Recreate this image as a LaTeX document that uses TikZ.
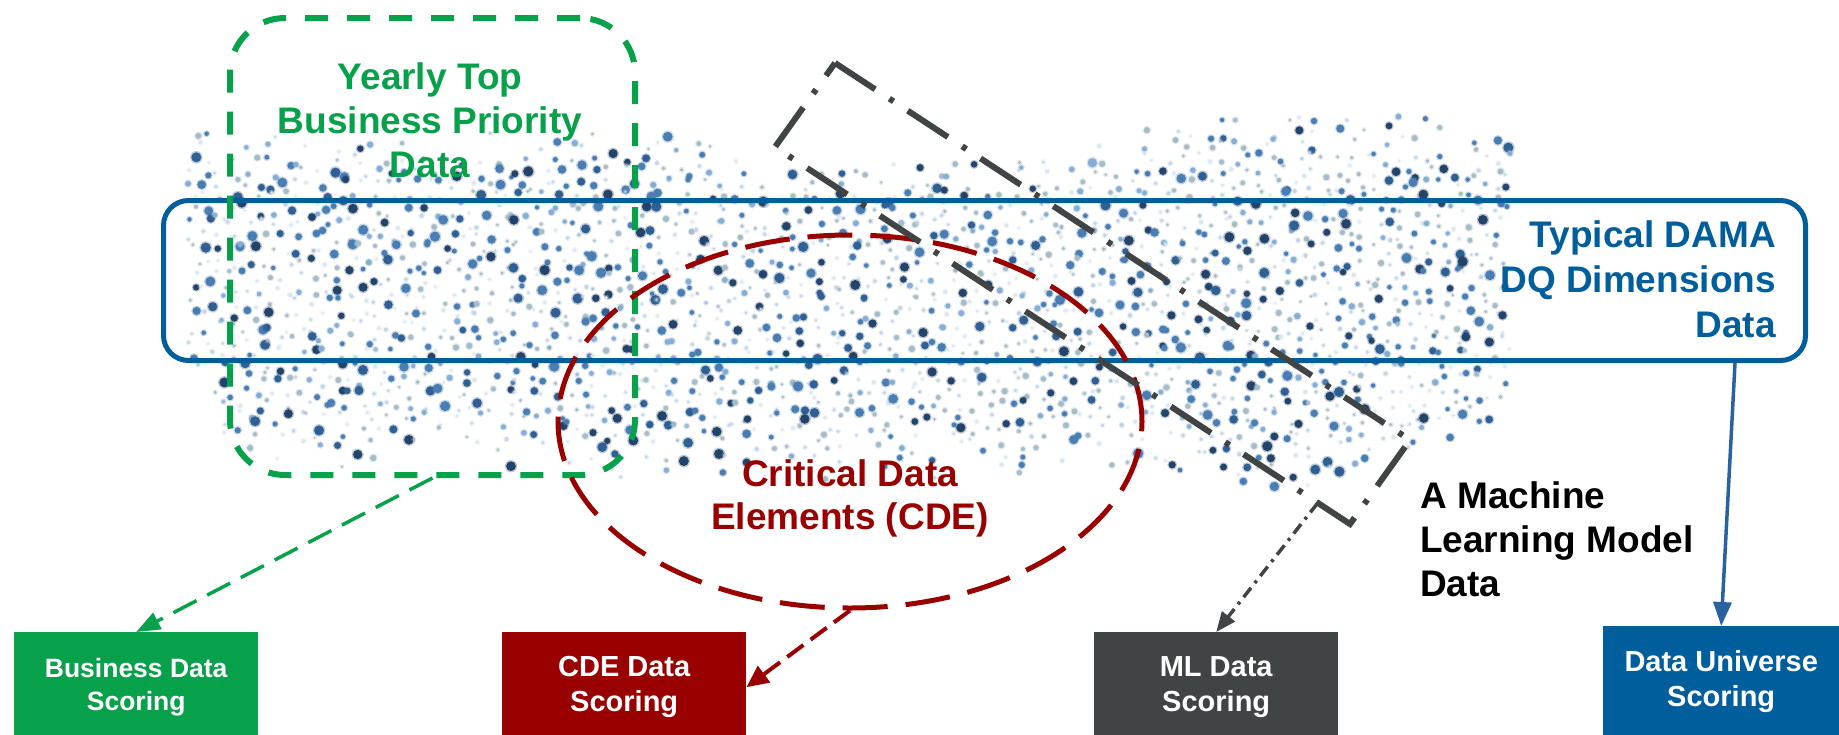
\documentclass[tikz,border=0pt]{standalone}
\usepackage{fontspec}
\setmainfont{Liberation Sans}
\usetikzlibrary{arrows.meta,shapes.geometric,calc}

% palette
\definecolor{dqblue}{HTML}{005E9C}
\definecolor{arrowblue}{HTML}{2A62A0}
\definecolor{bizgreen}{HTML}{08A14B}
\definecolor{cdered}{HTML}{990000}
\definecolor{mlgray}{HTML}{404444}
% dot shades, dark to pale
\definecolor{dot0}{HTML}{23436B}
\definecolor{dot1}{HTML}{2F5F93}
\definecolor{dot2}{HTML}{4A7DB2}
\definecolor{dot3}{HTML}{86AED4}
\definecolor{dot4}{HTML}{A6BCC6}
\definecolor{dot5}{HTML}{C2D5E6}
\definecolor{dot6}{HTML}{DCE6EE}

\tikzset{
  declare function={
    cloudtop(\x)=(\x<620)?122:((\x<760)?(122+(\x-620)*0.2):((\x<1080)?150:((\x<1180)?(150-(\x-1080)*0.4):((\x<1380)?110:(110+(\x-1380)*0.15)))));
    cloudbot(\x)=(\x<560)?468:((\x<1150)?480:((\x<1320)?(480+(\x-1150)*0.12):(500-(\x-1320)*0.35)));
  },
  bigtext/.style={font=\fontsize{37}{44}\selectfont\bfseries, inner sep=0pt},
  scorebox/.style={font=\fontsize{29}{35}\selectfont\bfseries, text=white, align=center,
    inner sep=0pt, minimum width=244pt, minimum height=110pt, anchor=north west},
  greenarrow/.style={draw=bizgreen, line width=3.5pt, dash pattern=on 26pt off 12pt,
    -{Triangle[length=24pt,width=18pt]}},
  redarrow/.style={draw=cdered, line width=4pt, dash pattern=on 20pt off 9pt,
    -{Triangle[length=22pt,width=20pt]}},
  grayarrow/.style={draw=mlgray, line width=3.5pt, dash pattern=on 12pt off 6pt on 3pt off 6pt,
    -{Triangle[length=20pt,width=16pt]}},
  bluearrow/.style={draw=arrowblue, line width=3.5pt, -{Triangle[length=24pt,width=18pt]}},
}

\begin{document}
\begin{tikzpicture}[x=1pt,y=-1pt]
\useasboundingbox[fill=white] (0,0) rectangle (1839,734);

% scattered data points, each with a soft rim
\pgfmathsetseed{20231}
\foreach \i in {0,...,101} {
  \foreach \j in {0,...,35} {
    \pgfmathsetmacro\px{188+\i*13+rnd*13}
    \pgfmathsetmacro\py{100+\j*13+rnd*13}
    \pgfmathsetmacro\dd{min(\py-cloudtop(\px),cloudbot(\px)-\py)}
    \pgfmathsetmacro\keep{(\dd>0)*(rnd<min(1,0.1+\dd/60))*(\px<1512)*((((\px>214)+(\py<365)))>0)}
    \ifdim\keep pt>0.5pt
      \pgfmathsetmacro\t{rnd}
      \pgfmathsetmacro\r{(\t<0.5)?(1.2+0.9*rnd):((\t<0.8)?(2.1+1.1*rnd):(3.1+2*rnd))}
      \pgfmathtruncatemacro\k{(\t<0.5)?(4+int(3*rnd)):((\t<0.8)?(2+int(3*rnd)):(int(3*rnd)))}
      \fill[dot\k, opacity=0.3] (\px,\py) circle[radius=\r pt+1.3pt];
      \fill[dot\k] (\px,\py) circle[radius=\r pt];
    \fi
  }
}

% typical DAMA band
\node[draw=dqblue, line width=5pt, rounded corners=25pt, minimum width=1642pt,
  minimum height=160pt, inner sep=0pt, anchor=north west] (dq) at (161,198) {};
% yearly priority frame
\node[draw=bizgreen, line width=6pt, dash pattern=on 23pt off 19pt, rounded corners=55pt,
  minimum width=405pt, minimum height=457pt, inner sep=0pt, anchor=north west] (yt) at (227,15) {};
% critical data elements
\node[draw=cdered, line width=5pt, dash pattern=on 45pt off 18pt, ellipse,
  minimum width=584pt, minimum height=373pt, inner sep=0pt] (cdeell) at (850,421.5) {};
% machine learning strip
\coordinate (mlT) at (835,63);
\coordinate (mlR) at (1410,440);
\coordinate (mlL) at (775,147);
\coordinate (mlB) at ($(mlL)+(mlR)-(mlT)$);
\draw[mlgray, line width=6pt, dash pattern=on 48pt off 17pt on 5pt off 17pt]
  (mlT) -- (mlR) -- (mlB) -- (mlL) -- cycle;

% labels
\node[bigtext, text=bizgreen, align=center] (ytlabel) at (430,120)
  {Yearly Top\\Business Priority\\Data};
\node[bigtext, font=\fontsize{37}{45}\selectfont\bfseries, text=dqblue, align=right,
  anchor=east] (dqlabel) at (1776,279) {Typical DAMA\\DQ Dimensions\\Data};
\node[bigtext, font=\fontsize{37}{43}\selectfont\bfseries, text=cdered, align=center]
  (cdelabel) at (850,498) {Critical Data\\Elements (CDE)};
\node[bigtext, text=black, align=left, anchor=west] (mllabel) at (1420,539)
  {A Machine\\Learning Model\\Data};

% scoring boxes
\node[scorebox, fill=bizgreen, font=\fontsize{26.5}{33}\selectfont\bfseries] (biz) at (14,632)
  {Business Data\\Scoring};
\node[scorebox, fill=cdered] (cde) at (502,632) {CDE Data\\Scoring};
\node[scorebox, fill=mlgray] (ml) at (1094,632) {ML Data\\Scoring};
\node[scorebox, fill=dqblue, minimum width=236pt] (du) at (1603,626) {Data Universe\\Scoring};

% connectors
\draw[greenarrow] (yt.south) -- (biz.north);
\draw[redarrow] (cdeell.south) -- (cde.east);
\coordinate (mlA) at ($(mlL)!0.944!(mlB)$);
\draw[grayarrow] (mlA) -- (ml.north);
\coordinate (duA) at ($(dq.south east)+(-73,0)$);
\draw[bluearrow] (duA) -- (du.north);
\end{tikzpicture}
\end{document}
